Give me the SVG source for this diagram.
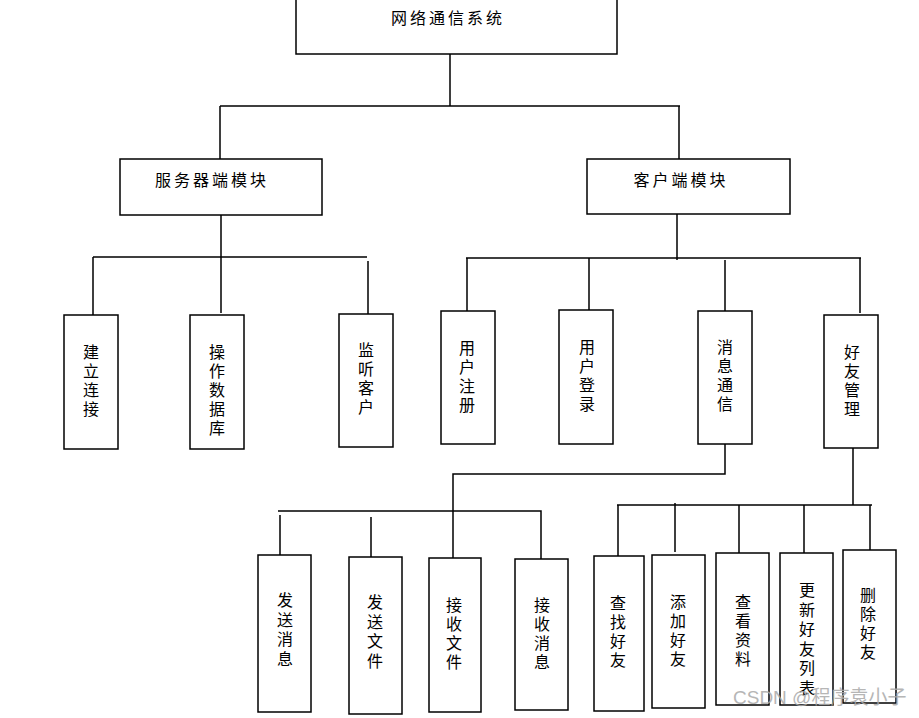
<svg xmlns="http://www.w3.org/2000/svg" width="919" height="718" viewBox="0 0 919 718">
<style>
.box{fill:#fff;stroke:#000;stroke-width:1.5}
.ln{fill:none;stroke:#000;stroke-width:1.5}
.t{font-family:"Noto Sans CJK SC","Noto Sans CJK JP",sans-serif;font-size:16px;fill:#000;text-anchor:middle}
.h{letter-spacing:3px}
.v{font-family:"Noto Sans CJK SC","Noto Sans CJK JP",sans-serif;font-size:16px;fill:#000;writing-mode:vertical-rl;letter-spacing:3px}
.v4{letter-spacing:3.5px}
.wm{font-family:"Liberation Sans","Noto Sans CJK SC",sans-serif;font-size:19px;fill:#aaa;opacity:0.85}
</style>
<rect width="919" height="718" fill="#fff"/>
<g id="connectors">
<path class="ln" d="M450 54V106M220 106H680M220 106V159M679 106V159"/>
<path class="ln" d="M221 215V313M93 257H367M93 257V315M368 261V314"/>
<path class="ln" d="M677 214V260M466 258H861M467 258V311M589 258V310M725 260V311M860 258V313"/>
<path class="ln" d="M725 444V474H453V558M278 511H541V559M280 515V555M371 517V557"/>
<path class="ln" d="M853 448V505M617 505H872M618 505V556M675 503V552M739 505V553M804 505V553M870 505V550"/>
</g>
<g id="root"><rect class="box" x="296" y="-2" width="321" height="56"/><text class="t h" x="448" y="24">网络通信系统</text></g>
<g id="server"><rect class="box" x="120" y="159" width="202" height="56"/><text class="t h" x="212" y="186">服务器端模块</text></g>
<g id="client"><rect class="box" x="587" y="159" width="203" height="55"/><text class="t h" x="681" y="186">客户端模块</text></g>

<g id="jianli"><rect class="box" x="64" y="315" width="54" height="134"/><text class="v" x="91" y="344">建立连接</text></g>
<g id="caozuo"><rect class="box" x="190" y="315" width="54" height="134"/><text class="v" x="217" y="344">操作数据库</text></g>
<g id="jianting"><rect class="box" x="339" y="314" width="54" height="133"/><text class="v" x="366" y="342">监听客户</text></g>

<g id="zhuce"><rect class="box" x="441" y="311" width="54" height="133"/><text class="v" x="467" y="340">用户注册</text></g>
<g id="denglu"><rect class="box" x="559" y="310" width="54" height="134"/><text class="v" x="587" y="339">用户登录</text></g>
<g id="xiaoxi"><rect class="box" x="698" y="311" width="54" height="133"/><text class="v" x="725" y="339">消息通信</text></g>
<g id="haoyou"><rect class="box" x="824" y="315" width="54" height="133"/><text class="v" x="852" y="344">好友管理</text></g>

<g id="fsxx"><rect class="box" x="258" y="555" width="53" height="157"/><text class="v v4" x="285" y="592">发送消息</text></g>
<g id="fswj"><rect class="box" x="349" y="557" width="53" height="157"/><text class="v v4" x="375" y="594">发送文件</text></g>
<g id="jswj"><rect class="box" x="429" y="558" width="52" height="154"/><text class="v" x="454" y="597">接收文件</text></g>
<g id="jsxx"><rect class="box" x="515" y="559" width="53" height="151"/><text class="v" x="542" y="597">接收消息</text></g>

<g id="czhy"><rect class="box" x="594" y="556" width="50" height="155"/><text class="v" x="618" y="595">查找好友</text></g>
<g id="tjhy"><rect class="box" x="652" y="555" width="53" height="153"/><text class="v" x="678" y="594">添加好友</text></g>
<g id="ckzl"><rect class="box" x="716" y="553" width="53" height="152"/><text class="v" x="743" y="594">查看资料</text></g>
<g id="gxlb"><rect class="box" x="780" y="553" width="53" height="152"/><text class="v v4" x="807" y="582">更新好友列表</text></g>
<g id="schy"><rect class="box" x="843" y="550" width="53" height="153"/><text class="v" x="868" y="587">删除好友</text></g>

<text class="wm" x="733" y="704">CSDN @程序袁小子</text>
</svg>
